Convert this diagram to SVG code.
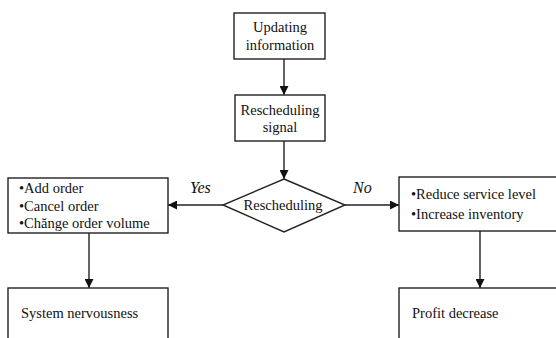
<svg xmlns="http://www.w3.org/2000/svg" width="556" height="338" viewBox="0 0 556 338">
  <defs>
    <marker id="arrow" viewBox="0 0 10 10" refX="10" refY="5" markerWidth="10" markerHeight="9" markerUnits="userSpaceOnUse" orient="auto">
      <path d="M0,0 L10,5 L0,10 Z" fill="#111"/>
    </marker>
    <style>
      rect, polygon.shape { fill: #fff; stroke: #222; stroke-width: 1.4; }
      .edge { fill: none; stroke: #222; stroke-width: 1.4; marker-end: url(#arrow); }
      text { font-family: "Liberation Serif", "Times New Roman", serif; font-size: 14.5px; fill: #111; }
      .mid { text-anchor: middle; }
      .lbl { font-style: italic; font-size: 16px; }
    </style>
  </defs>
  <rect width="556" height="338" fill="#fff" style="stroke:none"/>

  <g id="connectors">
    <line class="edge" x1="284" y1="59" x2="284" y2="95"/>
    <line class="edge" x1="284" y1="141" x2="284" y2="179"/>
    <line class="edge" x1="223" y1="205" x2="168" y2="205"/>
    <line class="edge" x1="345" y1="205" x2="399" y2="205"/>
    <line class="edge" x1="89" y1="233" x2="89" y2="288"/>
    <line class="edge" x1="480" y1="231" x2="480" y2="288"/>
    <text class="lbl" x="190" y="193">Yes</text>
    <text class="lbl" x="353" y="193">No</text>
  </g>

  <g id="updating-information">
    <rect x="234" y="13" width="91" height="46"/>
    <text class="mid" x="280" y="32">Updating</text>
    <text class="mid" x="280" y="50">information</text>
  </g>

  <g id="rescheduling-signal">
    <rect x="235" y="95" width="90" height="46"/>
    <text class="mid" x="280" y="115">Rescheduling</text>
    <text class="mid" x="280" y="132">signal</text>
  </g>

  <g id="rescheduling">
    <polygon class="shape" points="284,179 345,205 284,232 223,205"/>
    <text class="mid" x="283" y="210">Rescheduling</text>
  </g>

  <g id="order-actions">
    <rect x="8" y="178" width="160" height="55"/>
    <text x="19" y="193">•Add order</text>
    <text x="19" y="211">•Cancel order</text>
    <text x="19" y="228">•Chănge order volume</text>
  </g>

  <g id="buffer-actions">
    <rect x="399" y="177" width="170" height="54"/>
    <text x="411" y="199">•Reduce service level</text>
    <text x="411" y="219">•Increase inventory</text>
  </g>

  <g id="system-nervousness">
    <rect x="8" y="288" width="160" height="60"/>
    <text x="21" y="318">System nervousness</text>
  </g>

  <g id="profit-decrease">
    <rect x="399" y="288" width="170" height="60"/>
    <text x="412" y="318">Profit decrease</text>
  </g>
</svg>
